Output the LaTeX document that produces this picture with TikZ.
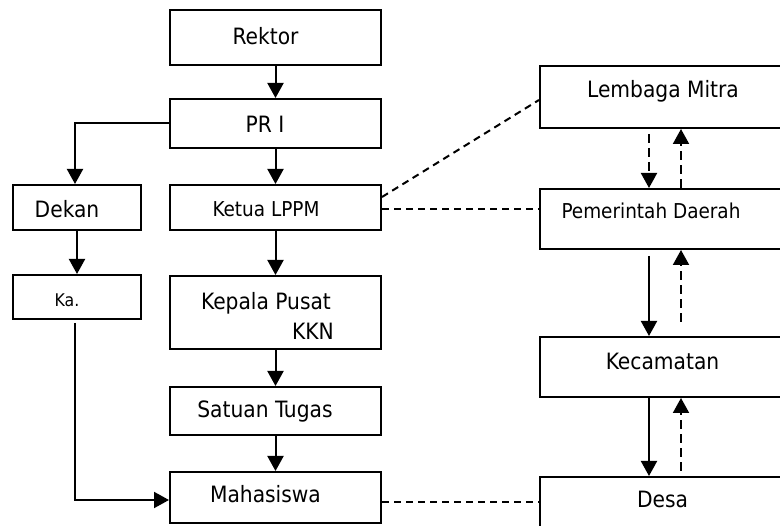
\documentclass[tikz,border=0pt]{standalone}
\usepackage{fontspec}
\setmainfont{DejaVu Sans Condensed}
\usetikzlibrary{arrows.meta}
\begin{document}
\begin{tikzpicture}[x=1pt,y=-1pt,
  box/.style={draw,line width=2pt,inner sep=0pt},
  lbl/.style={anchor=base,inner sep=0pt,font=\fontsize{22.5}{26}\selectfont},
  lbls/.style={anchor=base,inner sep=0pt,font=\fontsize{20.5}{24}\selectfont},
  lblt/.style={anchor=base,inner sep=0pt,font=\fontsize{17.5}{21}\selectfont},
  arr/.style={line width=2pt,-{Triangle[width=16pt,length=15pt]}},
  darr/.style={line width=2pt,dash pattern=on 9pt off 5pt,-{Triangle[width=16pt,length=15pt]}},
  dline/.style={line width=2pt,dash pattern=on 7pt off 5pt}]
\useasboundingbox (0,0) rectangle (780,526);
\clip (0,0) rectangle (780,526);
% left column boxes
\node[box,minimum width=211pt,minimum height=55pt] (rektor) at (275.5,37.5) {};
\node[box,minimum width=211pt,minimum height=49pt] (pr1) at (275.5,123.5) {};
\node[box,minimum width=211pt,minimum height=45pt] (ketua) at (275.5,207.5) {};
\node[box,minimum width=128pt,minimum height=45pt] (dekan) at (77,207.5) {};
\node[box,minimum width=128pt,minimum height=44pt] (ka) at (77,297) {};
\node[box,minimum width=211pt,minimum height=73pt] (kepala) at (275.5,312.5) {};
\node[box,minimum width=211pt,minimum height=48pt] (satuan) at (275.5,411) {};
\node[box,minimum width=211pt,minimum height=51pt] (mhs) at (275.5,497.5) {};
% right column boxes
\node[box,minimum width=260pt,minimum height=62pt] (lem) at (670,97) {};
\node[box,minimum width=260pt,minimum height=60pt] (pem) at (670,219) {};
\node[box,minimum width=260pt,minimum height=60pt] (kec) at (670,367) {};
\node[box,minimum width=260pt,minimum height=60pt] (desa) at (670,507) {};
% labels
\node[lbl] (t1) at (265.5,45) {Rektor};
\node[lbl] (t2) at (265,133) {PR I};
\node[lbls] (t3) at (266,217) {Ketua LPPM};
\node[lbl] (t4) at (67,218) {Dekan};
\node[lblt] (t5) at (67,307) {Ka.};
\node[lbl] (t6) at (266,310) {Kepala Pusat};
\node[lbl] (t7) at (313,340) {KKN};
\node[lbl] (t8) at (265,418) {Satuan Tugas};
\node[lbl] (t9) at (265.5,503) {Mahasiswa};
\node[lbl] (t10) at (663,98) {Lembaga Mitra};
\node[lbls] (t11) at (651,219) {Pemerintah Daerah};
\node[lbl] (t12) at (662.5,370) {Kecamatan};
\node[lbl] (t13) at (662.5,508) {Desa};
% left connectors
\draw[arr] (rektor.south) -- (pr1.north);
\draw[arr] (pr1.south) -- (ketua.north);
\draw[arr] (pr1.west) -| ([xshift=-2pt]dekan.north);
\draw[arr] (dekan.south) -- (ka.north);
\draw[arr] (ketua.south) -- (kepala.north);
\draw[arr] (kepala.south) -- (satuan.north);
\draw[arr] (satuan.south) -- (mhs.north);
\draw[arr] ([xshift=-2pt,yshift=-3pt]ka.south) |- ([yshift=-2.5pt]mhs.west);
% dashed links
\draw[dline] ([yshift=10.5pt]ketua.east) -- ([yshift=-3pt]lem.west);
\draw[dline] ([yshift=-1.5pt]ketua.east) coordinate (k1) -- (k1 -| pem.west);
\draw[dline] ([yshift=-4.5pt]mhs.east) coordinate (m1) -- (m1 -| desa.west);
% right connectors
\draw[darr,shorten <=5pt] ([xshift=-21pt]lem.south) -- ([xshift=-21pt]pem.north);
\draw[darr] ([xshift=11pt]pem.north) -- ([xshift=11pt]lem.south);
\draw[arr,shorten <=6pt] ([xshift=-21pt]pem.south) -- ([xshift=-21pt]kec.north);
\draw[darr,shorten <=14pt] ([xshift=11pt]kec.north) -- ([xshift=11pt]pem.south);
\draw[arr] ([xshift=-21pt]kec.south) -- ([xshift=-21pt]desa.north);
\draw[darr,shorten <=5pt] ([xshift=11pt]desa.north) -- ([xshift=11pt]kec.south);
\end{tikzpicture}
\end{document}
